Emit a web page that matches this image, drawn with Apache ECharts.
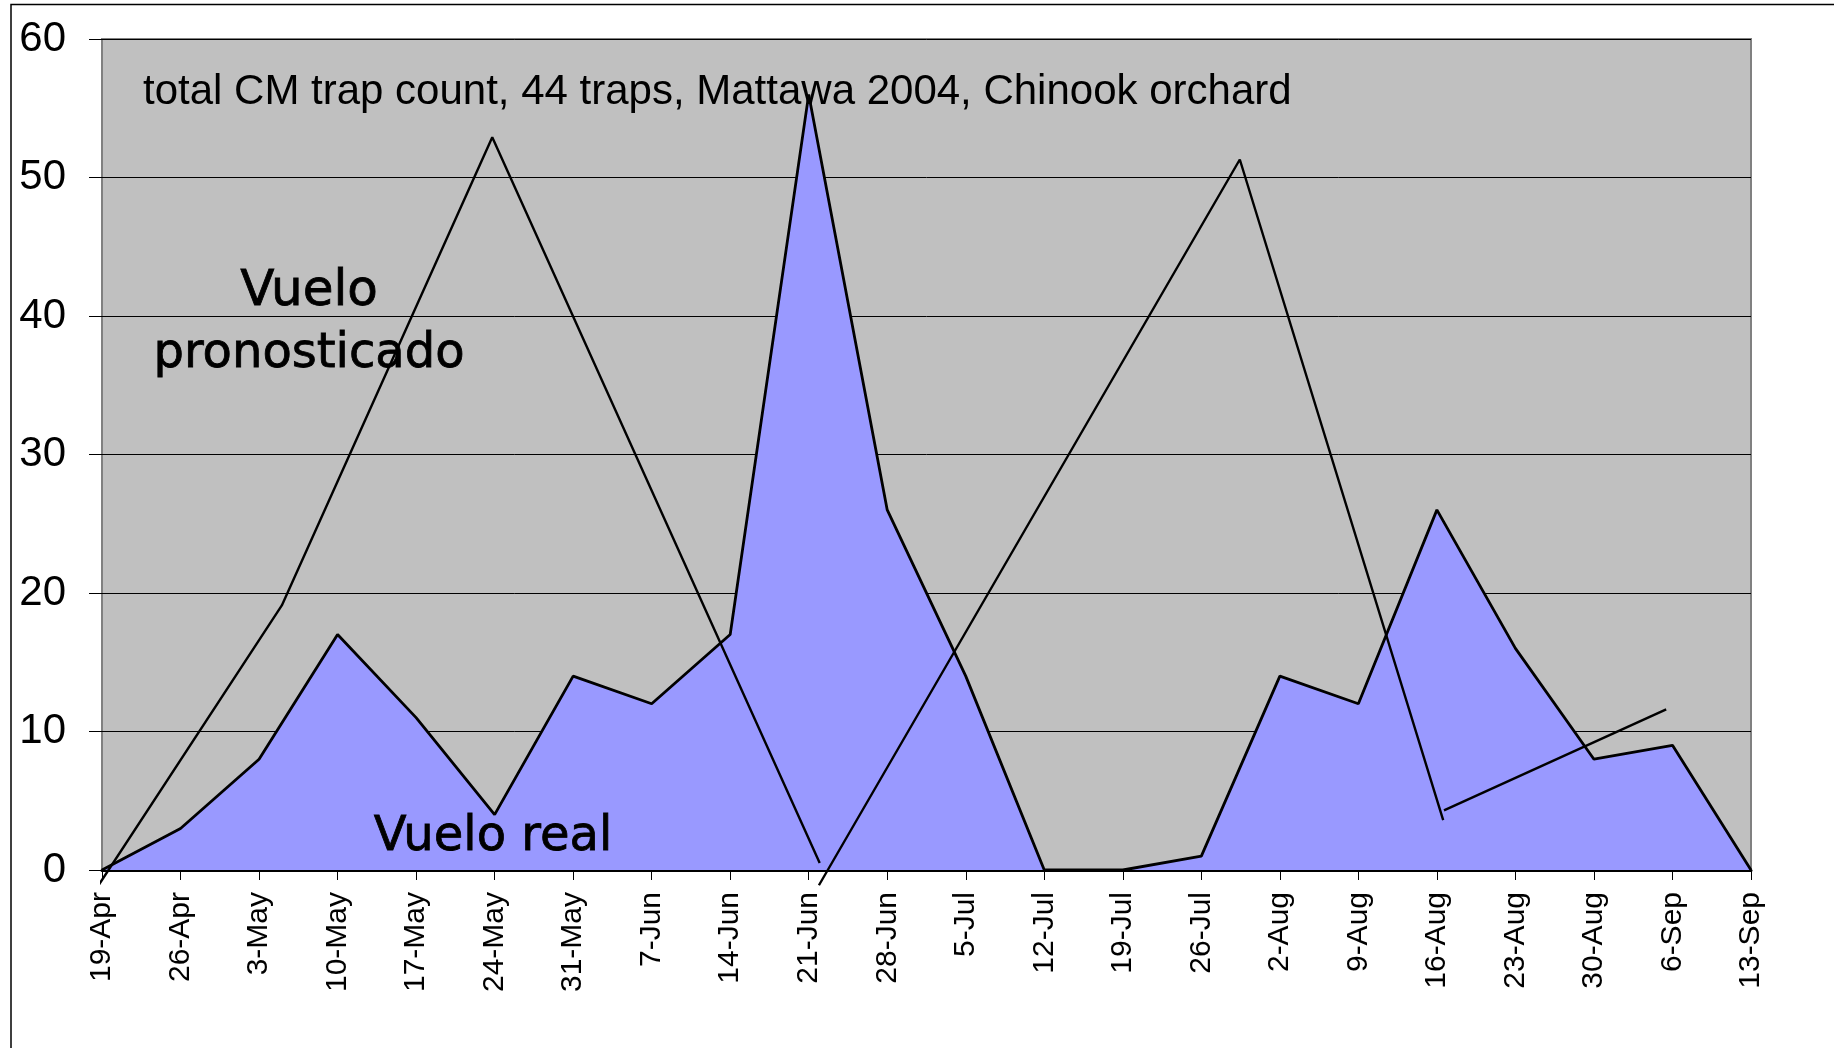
<!DOCTYPE html>
<html>
<head>
<meta charset="utf-8">
<title>CM trap count</title>
<script src="https://cdn.jsdelivr.net/npm/echarts@6/dist/echarts.min.js"></script>
<style>
  html, body { margin: 0; padding: 0; background: #fff; }
  #myEchart { width: 1834px; height: 1048px; }
</style>
</head>
<body>
<div id="myEchart"></div>
<script>
// fechas (una cada semana)
var weeks = ['19-Apr', '26-Apr', '3-May', '10-May', '17-May', '24-May', '31-May', '7-Jun',
  '14-Jun', '21-Jun', '28-Jun', '5-Jul', '12-Jul', '19-Jul', '26-Jul', '2-Aug', '9-Aug',
  '16-Aug', '23-Aug', '30-Aug', '6-Sep', '13-Sep'];

// vuelo real (area azul)
var realFlight = [0, 3, 8, 17, 11, 4, 14, 12, 17, 56, 26, 14, 0, 0, 1, 14, 12, 26, 16, 8, 9, 0];

// vuelo pronosticado: 3 tramos, x = posicion en semanas desde 19-Apr
var fcast1X = [-0.05, 2.29, 4.97, 9.14];
var fcast1Y = [-1.15, 19.1, 52.9, 0.5];
var fcast2X = [9.13, 14.49, 17.08];
var fcast2Y = [-1.1, 51.3, 3.6];
var fcast3X = [17.09, 19.92];
var fcast3Y = [4.3, 11.6];

var yTicks = [0, 10, 20, 30, 40, 50, 60];

function pairs(xs, ys) {
  var out = [];
  for (var i = 0; i < xs.length; i++) {
    out.push([xs[i], ys[i]]);
  }
  return out;
}

var myChart = echarts.init(document.getElementById('myEchart'));

var forecastLine = function (xs, ys) {
  return {
    type: 'line',
    xAxisIndex: 1,
    data: pairs(xs, ys),
    showSymbol: false,
    clip: false,
    silent: true,
    z: 5,
    lineStyle: { color: '#000', width: 2.4 }
  };
};

myChart.setOption({
  animation: false,
  grid: {
    left: 102,
    right: 83,
    top: 39,
    bottom: 178,
    show: true,
    backgroundColor: '#C0C0C0',
    borderColor: '#808080',
    borderWidth: 2
  },
  xAxis: [{
    type: 'category',
    data: weeks,
    boundaryGap: false,
    axisLine: { lineStyle: { color: '#000', width: 3 } },
    axisTick: { show: true, length: 10, interval: 0, lineStyle: { color: '#000', width: 1 } },
    axisLabel: {
      interval: 0,
      rotate: 90,
      margin: 22,
      color: '#000',
      fontSize: 30,
      fontFamily: 'Liberation Sans, Arial, sans-serif'
    },
    splitLine: { show: false }
  }, {
    type: 'value',
    min: 0,
    max: weeks.length - 1,
    show: false
  }],
  yAxis: {
    type: 'value',
    min: yTicks[0],
    max: yTicks[yTicks.length - 1],
    interval: 10,
    axisLine: { show: false },
    axisTick: { show: true, length: 13, lineStyle: { color: '#000', width: 1 } },
    axisLabel: {
      margin: 36,
      color: '#000',
      fontSize: 42,
      fontFamily: 'Liberation Sans, Arial, sans-serif'
    },
    splitLine: { lineStyle: { color: '#000', width: 1 } }
  },
  series: [{
    name: 'Vuelo real',
    type: 'line',
    data: realFlight,
    showSymbol: false,
    silent: true,
    z: 3,
    lineStyle: { color: '#000', width: 2.8 },
    areaStyle: { color: '#9999FF', opacity: 1 }
  },
  forecastLine(fcast1X, fcast1Y),
  forecastLine(fcast2X, fcast2Y),
  forecastLine(fcast3X, fcast3Y)
  ],
  graphic: [{
    // marco exterior
    type: 'rect',
    shape: { x: 11, y: 4.5, width: 2000, height: 2000 },
    style: { fill: null, stroke: '#000', lineWidth: 1.5 },
    z: 0
  }, {
    type: 'text',
    style: {
      text: 'total CM trap count, 44 traps, Mattawa 2004, Chinook orchard',
      x: 143, y: 92,
      verticalAlign: 'middle',
      font: '42px "Liberation Sans", Arial, sans-serif',
      fill: '#000'
    },
    z: 10
  }, {
    type: 'text',
    style: {
      text: 'Vuelo',
      x: 309, y: 292,
      align: 'center',
      verticalAlign: 'middle',
      font: '50px "Comic Sans MS", "DejaVu Sans", sans-serif',
      fill: '#000',
      stroke: '#000',
      lineWidth: 0.8
    },
    z: 10
  }, {
    type: 'text',
    style: {
      text: 'pronosticado',
      x: 309, y: 355,
      align: 'center',
      verticalAlign: 'middle',
      font: '48px "Comic Sans MS", "DejaVu Sans", sans-serif',
      fill: '#000',
      stroke: '#000',
      lineWidth: 0.8
    },
    z: 10
  }, {
    type: 'text',
    style: {
      text: 'Vuelo real',
      x: 493, y: 838,
      align: 'center',
      verticalAlign: 'middle',
      font: '48px "Comic Sans MS", "DejaVu Sans", sans-serif',
      fill: '#000',
      stroke: '#000',
      lineWidth: 0.8
    },
    z: 10
  }]
});
</script>
</body>
</html>
